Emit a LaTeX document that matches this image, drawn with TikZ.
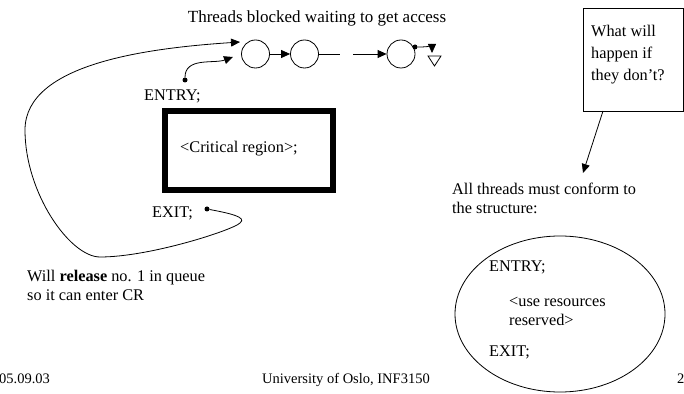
\documentclass[tikz,border=0pt]{standalone}
\usepackage{fontspec}
\setmainfont{Liberation Serif}
\usetikzlibrary{arrows.meta,shapes.geometric}
\begin{document}
\begin{tikzpicture}[x=1pt,y=1pt,
  txt/.style={font=\fontsize{16.3}{19}\selectfont, inner sep=0pt, align=left},
  foot/.style={font=\fontsize{14.5}{17}\selectfont, inner sep=0pt},
  thin/.style={line width=0.8pt},
  tri/.style={-{Triangle[length=9pt,width=8pt]}},
  qcirc/.style={circle,draw,line width=0.8pt,minimum size=28pt,inner sep=0pt},
  dotc/.style={circle,fill,inner sep=0pt,minimum size=5pt}]
\useasboundingbox (0,0) rectangle (684,393);

% title
\node[txt,font=\fontsize{17}{20}\selectfont,anchor=base] (title) at (317,370) {Threads blocked waiting to get access};

% queue of blocked threads
\node[qcirc] (c1) at (255.5,339) {};
\node[qcirc] (c2) at (304.5,339) {};
\node[qcirc] (c3) at (401,339) {};
\coordinate (gapA) at (340,339);
\coordinate (gapB) at (353,339);
\draw[thin,tri] (c1.east) -- (c2.west);
\draw[thin] (c2.east) -- (gapA);
\draw[thin,tri] (gapB) -- (c3.west);
\node[dotc] (qdot) at (415,346) {};
\coordinate (qtip) at (432,340);
\draw[thin,tri] (qdot) to[out=0,in=90] (qtip);
\draw[thin] (428,337) -- (441,337) -- (434.5,327) -- cycle;

% ENTRY / critical region / EXIT
\node[txt,anchor=base west] (entry) at (144,292) {ENTRY;};
\node[dotc] (entrydot) at (185,313) {};
\coordinate (entrytip) at (233,336);
\draw[thin,tri] (entrydot) to[out=90,in=200] (entrytip);

\node[draw,line width=6pt,minimum width=168pt,minimum height=79pt,inner sep=0pt] (cr) at (249,242.5) {};
\node[txt,anchor=base west] (crtext) at (180,240) {<Critical region>;};

\node[txt,anchor=base west] (exit) at (152,175) {EXIT;};
\node[dotc] (exitdot) at (207,184) {};
\coordinate (loopR) at (240,170);
\coordinate (loopB) at (100,136);
\coordinate (loopL) at (25,263);
\coordinate (looptip) at (240,351);
\draw[thin,tri] (exitdot) .. controls (228,180) and (248,176) .. (loopR)
  .. controls (233,163) and (150,136) .. (loopB)
  .. controls (70,136) and (25,200) .. (loopL)
  .. controls (25,330) and (150,345) .. (looptip);

\node[txt,anchor=base west] (release) at (27,111) {Will \textbf{release} no. 1 in queue};
\node[txt,anchor=base west] (release2) at (27,92) {so it can enter CR};

% callout
\node[draw,thin,minimum width=100pt,minimum height=103pt,inner sep=0pt] (callout) at (633,333.5) {};
\node[txt,anchor=base west,font=\fontsize{16.3}{22}\selectfont] (q1) at (591,312) {What will\\happen if\\they don't?};
\coordinate (callfoot) at (603,282);
\coordinate (calltip) at (583,220);
\draw[thin,tri] (callfoot) -- (calltip);

\node[txt,anchor=base west] (conf) at (452,179) {All threads must conform to\\the structure:};

% structure every thread follows
\node[draw,thin,ellipse,minimum width=210pt,minimum height=156pt,inner sep=0pt] (struct) at (560,79) {};
\node[txt,anchor=base west] (sentry) at (489,121) {ENTRY;};
\node[txt,anchor=base west] (suse) at (509,67) {<use resources\\reserved>};
\node[txt,anchor=base west] (sexit) at (489,37) {EXIT;};

% footer
\node[foot,anchor=base west] (date) at (-1,10) {05.09.03};
\node[foot,anchor=base] (uni) at (346,10) {University of Oslo, INF3150};
\node[foot,anchor=base west] (page) at (677,10) {2};
\end{tikzpicture}
\end{document}
